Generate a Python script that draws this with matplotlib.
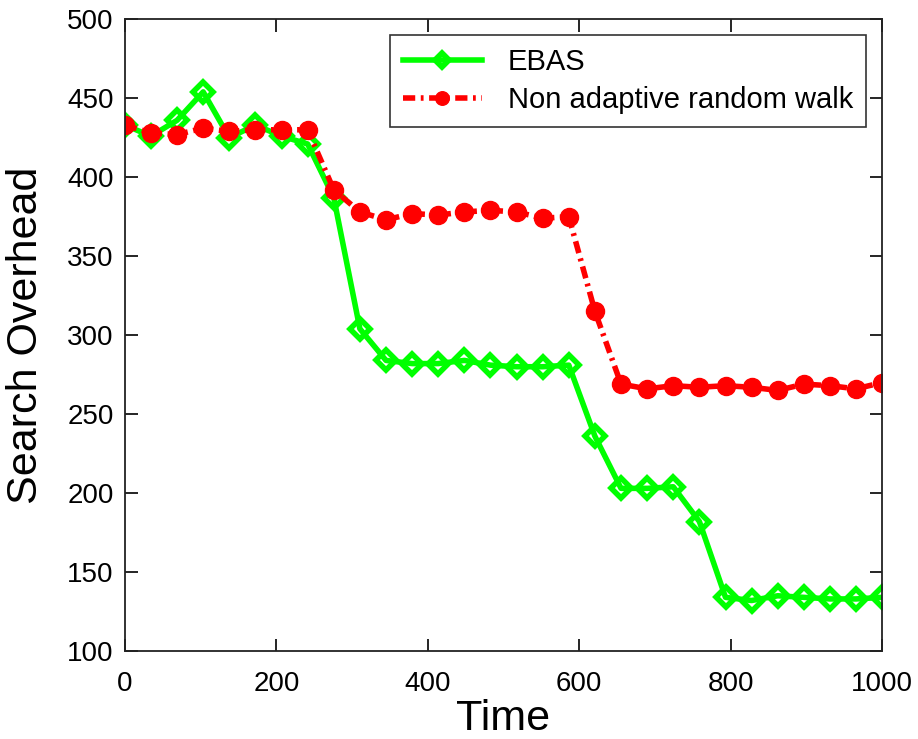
import numpy as np
import matplotlib
matplotlib.use("Agg")
import matplotlib.pyplot as plt

plt.rcParams['font.family'] = ['Liberation Sans', 'DejaVu Sans']

time = np.linspace(0, 1000, 30)

ebas = [433, 426, 436, 454, 425, 433, 426, 421, 387, 304,
        284, 282, 282, 284, 281, 280, 280, 281, 236, 203,
        203, 204, 182, 134, 132, 135, 134, 133, 133, 134]

random_walk = [433, 428, 427, 431, 429, 430, 430, 430, 392, 378,
               373, 377, 376, 378, 379, 378, 374, 375, 315, 269,
               266, 268, 267, 268, 267, 265, 269, 268, 266, 270]

xticks = [0, 200, 400, 600, 800, 1000]
yticks = [100, 150, 200, 250, 300, 350, 400, 450, 500]

fig = plt.figure(figsize=(9.18, 7.39), dpi=100)
ax = fig.add_axes([0.136, 0.119, 0.825, 0.855])

ax.plot(time, ebas, color='#00ff00', linestyle='-', linewidth=4,
        marker='D', markersize=10, markerfacecolor='none',
        markeredgecolor='#00ff00', markeredgewidth=4, label='EBAS')
ax.plot(time, random_walk, color='#ff0000', linestyle=(0, (2.2, 1.0, 0.5, 1.0)),
        linewidth=4, marker='o', markersize=13, markerfacecolor='#ff0000',
        markeredgecolor='#ff0000', label='Non adaptive random walk')

ax.set_xlim(0, 1000)
ax.set_ylim(100, 500)
ax.set_xticks(xticks)
ax.set_yticks(yticks)
ax.tick_params(direction='in', length=9, width=1.2, labelsize=20,
               top=True, right=True)
ax.tick_params(axis='x', pad=14)
ax.tick_params(axis='y', pad=8)
for s in ax.spines.values():
    s.set_linewidth(1.3)
    s.set_color('#222222')

ax.set_xlabel('Time', fontsize=31, labelpad=2)
ax.set_ylabel('Search Overhead', fontsize=31, labelpad=15)

leg = ax.legend(loc='upper right', fontsize=21, frameon=True, fancybox=False,
                edgecolor='black', handlelength=2.7, handletextpad=0.9,
                borderpad=0.45, labelspacing=0.35, markerscale=0.75,
                borderaxespad=0, bbox_to_anchor=(0.979, 0.975))
leg.get_frame().set_linewidth(1.2)

fig.savefig('out.png', dpi=100)
